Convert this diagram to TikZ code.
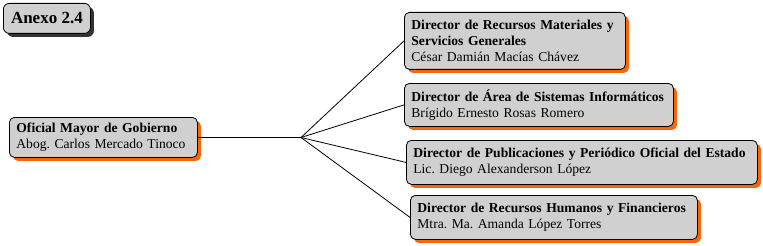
\documentclass[tikz,border=0pt]{standalone}
\usepackage{fontspec}
\setmainfont{Liberation Serif}
\usetikzlibrary{positioning, shadows}

\definecolor{cajagris}{RGB}{208,208,208}
\definecolor{sombranaranja}{RGB}{250,100,10}

\begin{document}
\frenchspacing
\begin{tikzpicture}[x=1pt, y=-1pt, line width=0.8pt,
    puesto/.style={draw=black, fill=cajagris, rounded corners=5pt, anchor=north west,
      align=left, inner xsep=7pt, inner ysep=2pt,
      font=\fontsize{13.6}{16}\selectfont,
      drop shadow={fill=sombranaranja, opacity=1, shadow xshift=3.5pt, shadow yshift=-3.5pt}},
    titulo/.style={draw=black, fill=cajagris, rounded corners=6pt, anchor=north west,
      inner sep=0pt, font=\fontsize{17}{20}\selectfont\bfseries,
      drop shadow={fill=black!80, opacity=1, shadow xshift=3.5pt, shadow yshift=-3.5pt}}
  ]
  \useasboundingbox (0,0) rectangle (763,246);

  % Anexo
  \node[titulo, minimum width=87pt, minimum height=30pt] (anexo) at (3,3) {Anexo 2.4};

  % Oficial Mayor
  \node[puesto, text width=174pt, minimum height=40pt] (oficial) at (9,117)
    {\textbf{Oficial Mayor de Gobierno}\\Abog. Carlos Mercado Tinoco};

  % Directores
  \node[puesto, text width=207pt, minimum height=57pt] (recmat) at (404,12)
    {\textbf{Director de Recursos Materiales y}\\\textbf{Servicios Generales}\\César Damián Macías Chávez};
  \node[puesto, text width=255pt, minimum height=43pt] (sistemas) at (404,83)
    {\textbf{Director de Área de Sistemas Informáticos}\\Brígido Ernesto Rosas Romero};
  \node[puesto, text width=337pt, minimum height=44pt] (publica) at (406,140)
    {\textbf{Director de Publicaciones y Periódico Oficial del Estado}\\Lic. Diego Alexanderson López};
  \node[puesto, text width=273pt, minimum height=44pt] (rechum) at (410,195)
    {\textbf{Director de Recursos Humanos y Financieros}\\Mtra. Ma. Amanda López Torres};

  % Conectores
  \coordinate (nudo) at (301,137.5);
  \draw (oficial.east) -- (nudo);
  \draw (nudo) -- (recmat.west);
  \draw (nudo) -- (sistemas.west);
  \draw (nudo) -- (publica.west);
  \draw (nudo) -- (rechum.west);

\end{tikzpicture}
\end{document}
